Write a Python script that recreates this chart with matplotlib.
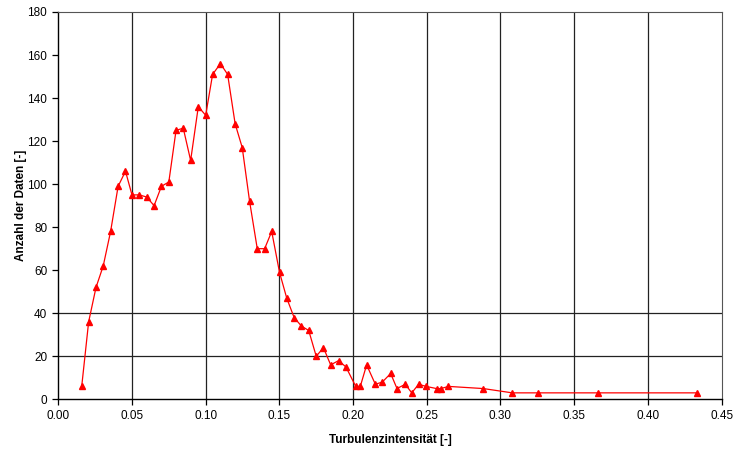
import matplotlib
matplotlib.use('Agg')
import matplotlib.pyplot as plt

plt.rcParams['font.family'] = ['Liberation Sans', 'DejaVu Sans']

# Turbulenzintensität und Anzahl der Daten
ti = [0.0159, 0.0206, 0.0256, 0.0305, 0.0355, 0.0406, 0.0456, 0.0500, 0.0550,
      0.0600, 0.0650, 0.0700, 0.0750, 0.0799, 0.0848, 0.0898, 0.0950, 0.1000,
      0.1047, 0.1100, 0.1149, 0.1200, 0.1248, 0.1298, 0.1350, 0.1400, 0.1448,
      0.1501, 0.1550, 0.1600, 0.1650, 0.1699, 0.1750, 0.1799, 0.1848, 0.1902,
      0.1952, 0.2018, 0.2049, 0.2092, 0.2151, 0.2198, 0.2255, 0.2298, 0.2354,
      0.2398, 0.2445, 0.2495, 0.2566, 0.2596, 0.2647, 0.2883, 0.3080, 0.3252,
      0.3660, 0.4331]
anzahl = [6, 36, 52, 62, 78, 99, 106, 95, 95,
          94, 90, 99, 101, 125, 126, 111, 136, 132,
          151, 156, 151, 128, 117, 92, 70, 70, 78,
          59, 47, 38, 34, 32, 20, 24, 16, 18,
          15, 6, 6, 16, 7, 8, 12, 5, 7,
          3, 7, 6, 5, 5, 6, 5, 3, 3,
          3, 3]

x_ticks = [0.00, 0.05, 0.10, 0.15, 0.20, 0.25, 0.30, 0.35, 0.40, 0.45]
y_ticks = [0, 20, 40, 60, 80, 100, 120, 140, 160, 180]
h_grid = [20, 40]

fig = plt.figure(figsize=(7.5, 4.51), dpi=100)
ax = fig.add_axes([0.0777, 0.1146, 0.8844, 0.8588])

# Gitterlinien
for xv in x_ticks[1:-1]:
    ax.axvline(xv, color='#222222', lw=0.9, zorder=1)
for yv in h_grid:
    ax.axhline(yv, color='#222222', lw=0.9, zorder=1)

ax.plot(ti, anzahl, color='red', lw=0.9, marker='^', markersize=5,
        markeredgecolor='red', markerfacecolor='red', zorder=3)

ax.set_xlim(0, 0.45)
ax.set_ylim(0, 180)
ax.set_xticks(x_ticks)
ax.set_xticklabels(['%.2f' % v for v in x_ticks])
ax.set_yticks(y_ticks)
ax.tick_params(axis='both', direction='out', length=4, width=0.9,
               labelsize=8.5, color='black', pad=4)

for side in ['top', 'right']:
    ax.spines[side].set_color('#555555')
    ax.spines[side].set_linewidth(0.8)
for side in ['left', 'bottom']:
    ax.spines[side].set_color('black')
    ax.spines[side].set_linewidth(1.0)

ax.set_xlabel('Turbulenzintensität [-]', fontsize=8.5, fontweight='bold', labelpad=8)
ax.set_ylabel('Anzahl der Daten [-]', fontsize=8.5, fontweight='bold', labelpad=0)

fig.savefig('out.png', dpi=100, facecolor='white')
